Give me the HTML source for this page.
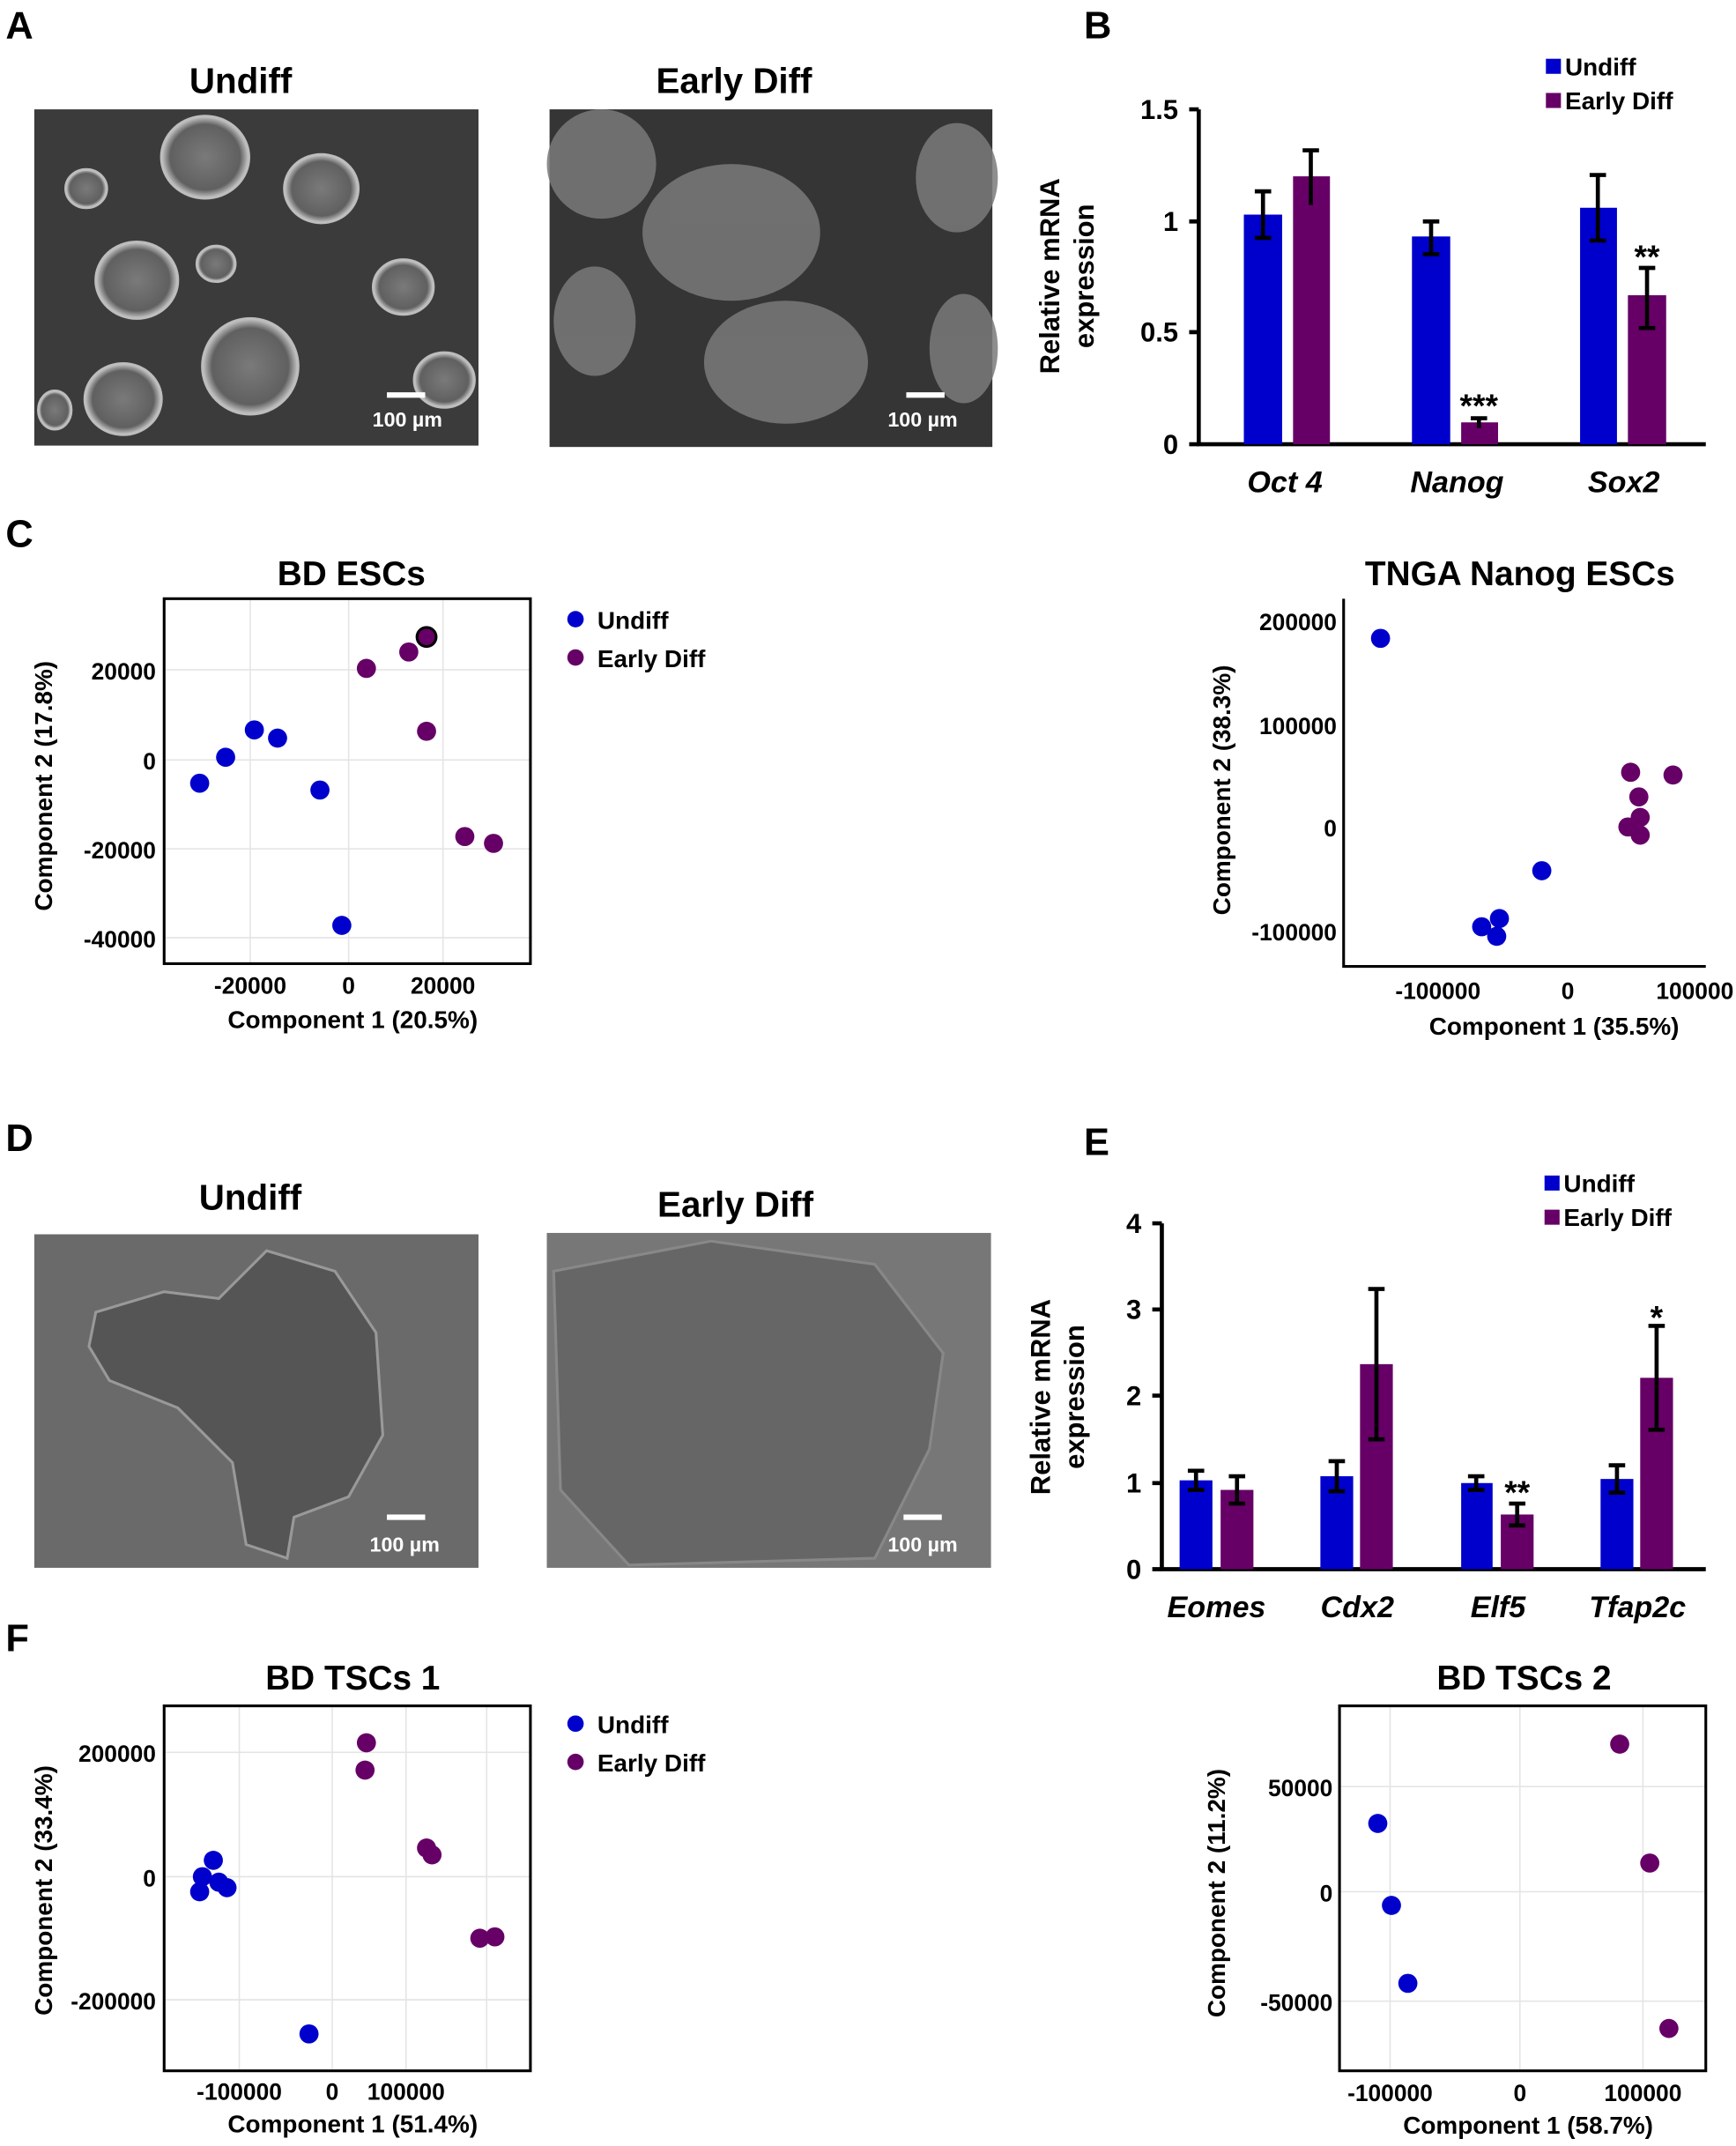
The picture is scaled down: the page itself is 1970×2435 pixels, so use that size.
<!DOCTYPE html>
<html><head><meta charset="utf-8"><style>
html,body{margin:0;padding:0;background:#fff;}
svg{display:block;}
text{font-family:"Liberation Sans",Arial,sans-serif;font-weight:bold;fill:#000;}
</style></head><body>
<svg width="1970" height="2435" viewBox="0 0 1270 1570" xmlns="http://www.w3.org/2000/svg">
<defs>
<radialGradient id="col" cx="50%" cy="50%" r="50%"><stop offset="0" stop-color="#7a7a7a"/><stop offset="0.8" stop-color="#606060"/><stop offset="1" stop-color="#c8c8c8"/></radialGradient>
</defs>
<g font-size="28"><text x="4" y="28">A</text><text x="793" y="28">B</text><text x="4" y="400">C</text><text x="4" y="842">D</text><text x="793" y="845">E</text><text x="4" y="1208">F</text></g>

<text x="176" y="68" font-size="26" text-anchor="middle">Undiff</text>
<text x="537" y="68" font-size="26" text-anchor="middle">Early Diff</text>
<rect x="25" y="80" width="325" height="246" fill="#3b3b3b"/>
<g fill="url(#col)" stroke="#bdbdbd" stroke-width="2">
<ellipse cx="150" cy="115" rx="32" ry="30"/><ellipse cx="235" cy="138" rx="27" ry="25"/><ellipse cx="63" cy="138" rx="15" ry="14"/>
<ellipse cx="100" cy="205" rx="30" ry="28"/><ellipse cx="158" cy="193" rx="14" ry="13"/><ellipse cx="183" cy="268" rx="35" ry="35"/>
<ellipse cx="90" cy="292" rx="28" ry="26"/><ellipse cx="295" cy="210" rx="22" ry="20"/><ellipse cx="325" cy="278" rx="22" ry="20"/><ellipse cx="40" cy="300" rx="12" ry="14"/>
</g>
<rect x="283" y="287" width="28" height="4" fill="#fff"/>
<text x="298" y="312" font-size="15" text-anchor="middle" style="fill:#fff">100 µm</text>
<rect x="402" y="80" width="324" height="247" fill="#353535"/>
<g fill="#7a7a7a" opacity="0.85">
<ellipse cx="440" cy="120" rx="40" ry="40"/><ellipse cx="535" cy="170" rx="65" ry="50"/><ellipse cx="575" cy="265" rx="60" ry="45"/>
<ellipse cx="435" cy="235" rx="30" ry="40"/><ellipse cx="700" cy="130" rx="30" ry="40"/><ellipse cx="705" cy="255" rx="25" ry="40"/>
</g>
<rect x="663" y="287" width="28" height="4" fill="#fff"/>
<text x="675" y="312" font-size="15" text-anchor="middle" style="fill:#fff">100 µm</text>

<g stroke="#000" stroke-width="3" fill="none"><path d="M877 80V325H1248"/><path d="M870 80h7M870 162h7M870 243h7M870 325h7"/></g>
<g font-size="20" text-anchor="end"><text x="862" y="87">1.5</text><text x="862" y="169">1</text><text x="862" y="250">0.5</text><text x="862" y="332">0</text></g>
<text transform="translate(775 202) rotate(-90)" font-size="20" text-anchor="middle">Relative mRNA</text>
<text transform="translate(800 202) rotate(-90)" font-size="20" text-anchor="middle">expression</text>
<g fill="#0000cc"><rect x="910" y="157" width="28" height="168"/><rect x="1033" y="173" width="28" height="152"/><rect x="1156" y="152" width="27" height="173"/></g>
<g fill="#660066"><rect x="946" y="129" width="27" height="196"/><rect x="1069" y="309" width="27" height="16"/><rect x="1191" y="216" width="28" height="109"/></g>
<g stroke="#000" stroke-width="3"><path d="M924 140v34M918 140h12M918 174h12"/><path d="M959 110v40M953 110h12"/><path d="M1047 162v24M1041 162h12M1041 186h12"/><path d="M1082 306v7M1076 306h12"/><path d="M1169 128v48M1163 128h12M1163 176h12"/><path d="M1205 196v44M1199 196h12M1199 240h12"/></g>
<text x="1082" y="305" font-size="24" text-anchor="middle">***</text>
<text x="1205" y="196" font-size="24" text-anchor="middle">**</text>
<g font-size="22" font-style="italic" text-anchor="middle"><text x="940" y="360">Oct 4</text><text x="1066" y="360">Nanog</text><text x="1188" y="360">Sox2</text></g>
<rect x="1131" y="43" width="11" height="11" fill="#0000cc"/><text x="1145" y="55" font-size="18">Undiff</text>
<rect x="1131" y="68" width="11" height="11" fill="#660066"/><text x="1145" y="80" font-size="18">Early Diff</text>

<text x="257" y="428" font-size="25" text-anchor="middle">BD ESCs</text>
<g stroke="#e4e4e4" stroke-width="1"><path d="M183 438v267M255 438v267M324 438v267M120 490h268M120 556h268M120 621h268M120 686h268"/></g>
<rect x="120" y="438" width="268" height="267" fill="none" stroke="#000" stroke-width="2"/>
<g font-size="17" text-anchor="end"><text x="114" y="497">20000</text><text x="114" y="563">0</text><text x="114" y="628">-20000</text><text x="114" y="693">-40000</text></g>
<g font-size="17" text-anchor="middle"><text x="183" y="727">-20000</text><text x="255" y="727">0</text><text x="324" y="727">20000</text></g>
<text x="258" y="752" font-size="18" text-anchor="middle">Component 1 (20.5%)</text>
<text transform="translate(38 575) rotate(-90)" font-size="18" text-anchor="middle">Component 2 (17.8%)</text>
<g fill="#0000cc"><circle cx="146" cy="573" r="7"/><circle cx="165" cy="554" r="7"/><circle cx="186" cy="534" r="7"/><circle cx="203" cy="540" r="7"/><circle cx="234" cy="578" r="7"/><circle cx="250" cy="677" r="7"/></g>
<g fill="#660066"><circle cx="268" cy="489" r="7"/><circle cx="299" cy="477" r="7"/><circle cx="312" cy="466" r="7" stroke="#000" stroke-width="2"/><circle cx="312" cy="535" r="7"/><circle cx="340" cy="612" r="7"/><circle cx="361" cy="617" r="7"/></g>
<circle cx="421" cy="453" r="6" fill="#0000cc"/><text x="437" y="460" font-size="18">Undiff</text>
<circle cx="421" cy="481" r="6" fill="#660066"/><text x="437" y="488" font-size="18">Early Diff</text>

<text x="1112" y="428" font-size="25" text-anchor="middle">TNGA Nanog ESCs</text>
<g stroke="#000" stroke-width="2" fill="none"><path d="M983 438V707H1248"/></g>
<g font-size="17" text-anchor="end"><text x="978" y="461">200000</text><text x="978" y="537">100000</text><text x="978" y="612">0</text><text x="978" y="688">-100000</text></g>
<g font-size="17" text-anchor="middle"><text x="1052" y="731">-100000</text><text x="1147" y="731">0</text><text x="1240" y="731">100000</text></g>
<text x="1137" y="757" font-size="18" text-anchor="middle">Component 1 (35.5%)</text>
<text transform="translate(900 578) rotate(-90)" font-size="18" text-anchor="middle">Component 2 (38.3%)</text>
<g fill="#0000cc"><circle cx="1010" cy="467" r="7"/><circle cx="1128" cy="637" r="7"/><circle cx="1097" cy="672" r="7"/><circle cx="1084" cy="678" r="7"/><circle cx="1095" cy="685" r="7"/></g>
<g fill="#660066"><circle cx="1193" cy="565" r="7"/><circle cx="1224" cy="567" r="7"/><circle cx="1199" cy="583" r="7"/><circle cx="1200" cy="598" r="7"/><circle cx="1191" cy="605" r="7"/><circle cx="1200" cy="611" r="7"/></g>

<text x="183" y="885" font-size="26" text-anchor="middle">Undiff</text>
<text x="538" y="890" font-size="26" text-anchor="middle">Early Diff</text>
<rect x="25" y="903" width="325" height="244" fill="#6a6a6a"/>
<path d="M70 960 L120 945 L160 950 L195 915 L245 930 L275 975 L280 1050 L255 1095 L215 1110 L210 1140 L180 1130 L170 1070 L130 1030 L80 1010 L65 985Z" fill="#555" stroke="#999" stroke-width="2"/>
<rect x="283" y="1108" width="28" height="4" fill="#fff"/>
<text x="296" y="1135" font-size="15" text-anchor="middle" style="fill:#fff">100 µm</text>
<rect x="400" y="902" width="325" height="245" fill="#777"/>
<path d="M405 930 L520 908 L640 925 L690 990 L680 1060 L640 1140 L460 1145 L410 1090Z" fill="#666" stroke="#888" stroke-width="2"/>
<rect x="661" y="1108" width="28" height="4" fill="#fff"/>
<text x="675" y="1135" font-size="15" text-anchor="middle" style="fill:#fff">100 µm</text>

<g stroke="#000" stroke-width="3" fill="none"><path d="M850 895V1148H1248"/><path d="M843 895h7M843 958h7M843 1021h7M843 1085h7M843 1148h7"/></g>
<g font-size="20" text-anchor="end"><text x="835" y="902">4</text><text x="835" y="965">3</text><text x="835" y="1028">2</text><text x="835" y="1092">1</text><text x="835" y="1155">0</text></g>
<text transform="translate(768 1022) rotate(-90)" font-size="20" text-anchor="middle">Relative mRNA</text>
<text transform="translate(793 1022) rotate(-90)" font-size="20" text-anchor="middle">expression</text>
<g fill="#0000cc"><rect x="863" y="1083" width="24" height="65"/><rect x="966" y="1080" width="24" height="68"/><rect x="1069" y="1085" width="23" height="63"/><rect x="1171" y="1082" width="24" height="66"/></g>
<g fill="#660066"><rect x="893" y="1090" width="24" height="58"/><rect x="995" y="998" width="24" height="150"/><rect x="1098" y="1108" width="24" height="40"/><rect x="1200" y="1008" width="24" height="140"/></g>
<g stroke="#000" stroke-width="3"><path d="M875 1076v14M869 1076h12M869 1090h12"/><path d="M905 1080v20M899 1080h12M899 1100h12"/><path d="M978 1069v22M972 1069h12M972 1091h12"/><path d="M1007 943v110M1001 943h12M1001 1053h12"/><path d="M1080 1080v10M1074 1080h12M1074 1090h12"/><path d="M1110 1100v16M1104 1100h12M1104 1116h12"/><path d="M1183 1072v20M1177 1072h12M1177 1092h12"/><path d="M1212 970v76M1206 970h12M1206 1046h12"/></g>
<text x="1110" y="1100" font-size="24" text-anchor="middle">**</text>
<text x="1212" y="972" font-size="24" text-anchor="middle">*</text>
<g font-size="22" font-style="italic" text-anchor="middle"><text x="890" y="1183">Eomes</text><text x="993" y="1183">Cdx2</text><text x="1096" y="1183">Elf5</text><text x="1198" y="1183">Tfap2c</text></g>
<rect x="1130" y="860" width="11" height="11" fill="#0000cc"/><text x="1144" y="872" font-size="18">Undiff</text>
<rect x="1130" y="885" width="11" height="11" fill="#660066"/><text x="1144" y="897" font-size="18">Early Diff</text>

<text x="258" y="1236" font-size="25" text-anchor="middle">BD TSCs 1</text>
<g stroke="#e4e4e4" stroke-width="1"><path d="M175 1248v267M243 1248v267M297 1248v267M356 1248v267M120 1282h268M120 1373h268M120 1463h268"/></g>
<rect x="120" y="1248" width="268" height="267" fill="none" stroke="#000" stroke-width="2"/>
<g font-size="17" text-anchor="end"><text x="114" y="1289">200000</text><text x="114" y="1380">0</text><text x="114" y="1470">-200000</text></g>
<g font-size="17" text-anchor="middle"><text x="175" y="1536">-100000</text><text x="243" y="1536">0</text><text x="297" y="1536">100000</text></g>
<text x="258" y="1560" font-size="18" text-anchor="middle">Component 1 (51.4%)</text>
<text transform="translate(38 1383) rotate(-90)" font-size="18" text-anchor="middle">Component 2 (33.4%)</text>
<g fill="#0000cc"><circle cx="156" cy="1361" r="7"/><circle cx="148" cy="1373" r="7"/><circle cx="160" cy="1377" r="7"/><circle cx="166" cy="1381" r="7"/><circle cx="146" cy="1384" r="7"/><circle cx="226" cy="1488" r="7"/></g>
<g fill="#660066"><circle cx="268" cy="1275" r="7"/><circle cx="267" cy="1295" r="7"/><circle cx="312" cy="1352" r="7"/><circle cx="316" cy="1357" r="7"/><circle cx="351" cy="1418" r="7"/><circle cx="362" cy="1417" r="7"/></g>
<circle cx="421" cy="1261" r="6" fill="#0000cc"/><text x="437" y="1268" font-size="18">Undiff</text>
<circle cx="421" cy="1289" r="6" fill="#660066"/><text x="437" y="1296" font-size="18">Early Diff</text>

<text x="1115" y="1236" font-size="25" text-anchor="middle">BD TSCs 2</text>
<g stroke="#e4e4e4" stroke-width="1"><path d="M1017 1248v267M1112 1248v267M1202 1248v267M980 1307h268M980 1384h268M980 1464h268"/></g>
<rect x="980" y="1248" width="268" height="267" fill="none" stroke="#000" stroke-width="2"/>
<g font-size="17" text-anchor="end"><text x="975" y="1314">50000</text><text x="975" y="1391">0</text><text x="975" y="1471">-50000</text></g>
<g font-size="17" text-anchor="middle"><text x="1017" y="1537">-100000</text><text x="1112" y="1537">0</text><text x="1202" y="1537">100000</text></g>
<text x="1118" y="1561" font-size="18" text-anchor="middle">Component 1 (58.7%)</text>
<text transform="translate(896 1385) rotate(-90)" font-size="18" text-anchor="middle">Component 2 (11.2%)</text>
<g fill="#0000cc"><circle cx="1008" cy="1334" r="7"/><circle cx="1018" cy="1394" r="7"/><circle cx="1030" cy="1451" r="7"/></g>
<g fill="#660066"><circle cx="1185" cy="1276" r="7"/><circle cx="1207" cy="1363" r="7"/><circle cx="1221" cy="1484" r="7"/></g>
</svg>
</body></html>
